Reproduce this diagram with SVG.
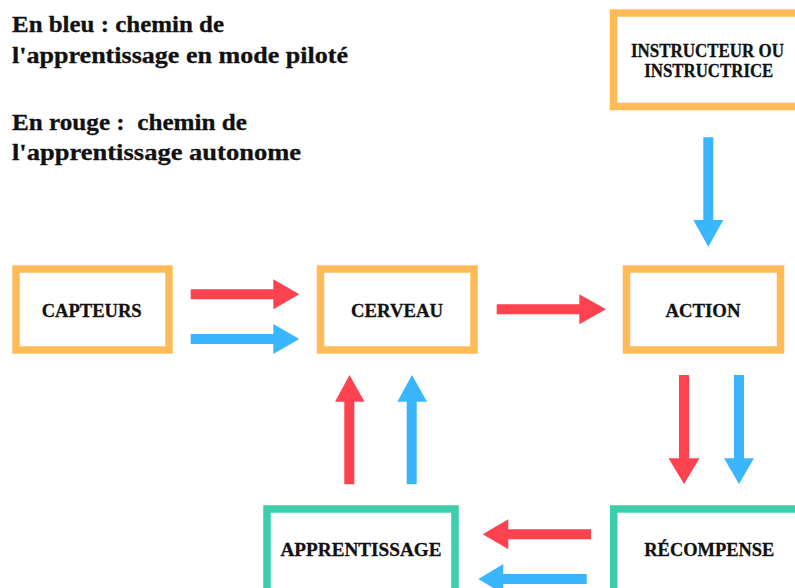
<svg xmlns="http://www.w3.org/2000/svg" width="795" height="588" viewBox="0 0 795 588">
<style>
  .bg{fill:#ffffff}
  .box{fill:#ffffff;stroke-width:7.5}
  .orange{stroke:#ffbb57}
  .green{stroke:#3dcfab}
  .lbl{font-family:"Liberation Serif","DejaVu Serif",serif;font-weight:bold;font-size:19px;fill:#111111;stroke:#111111;stroke-width:0.3;text-anchor:middle}
  .head{font-family:"Liberation Serif","DejaVu Serif",serif;font-weight:bold;font-size:24px;fill:#111111;stroke:#111111;stroke-width:0.3;white-space:pre}
  .red{fill:#ff424f}
  .blue{fill:#3ab6ff}
</style>
<rect class="bg" x="0" y="0" width="795" height="588"/>
<g id="legend">
  <text class="head" x="12" y="31.5" textLength="212" lengthAdjust="spacingAndGlyphs">En bleu : chemin de</text>
  <text class="head" x="12" y="62.5" textLength="336" lengthAdjust="spacingAndGlyphs">l'apprentissage en mode piloté</text>
  <text class="head" x="12" y="130" textLength="235" lengthAdjust="spacingAndGlyphs">En rouge :  chemin de</text>
  <text class="head" x="12" y="160" textLength="289" lengthAdjust="spacingAndGlyphs">l'apprentissage autonome</text>
</g>
<g id="instructeur">
  <rect class="box orange" x="613.5" y="13" width="200" height="93.5"/>
  <text class="lbl" x="707.5" y="56.7" textLength="153" lengthAdjust="spacingAndGlyphs">INSTRUCTEUR OU</text>
  <text class="lbl" x="708.8" y="76.7" textLength="129" lengthAdjust="spacingAndGlyphs">INSTRUCTRICE</text>
</g>
<g id="capteurs">
  <rect class="box orange" x="16" y="269" width="153" height="81"/>
  <text class="lbl" x="91.7" y="316.7" textLength="100" lengthAdjust="spacingAndGlyphs">CAPTEURS</text>
</g>
<g id="cerveau">
  <rect class="box orange" x="320.5" y="269" width="153.5" height="81"/>
  <text class="lbl" x="397" y="316.5" textLength="92" lengthAdjust="spacingAndGlyphs">CERVEAU</text>
</g>
<g id="action">
  <rect class="box orange" x="626.5" y="269" width="154" height="81"/>
  <text class="lbl" x="703" y="316.7" textLength="75" lengthAdjust="spacingAndGlyphs">ACTION</text>
</g>
<g id="apprentissage">
  <rect class="box green" x="267" y="509" width="188" height="100"/>
  <text class="lbl" x="361" y="555.7" textLength="161" lengthAdjust="spacingAndGlyphs">APPRENTISSAGE</text>
</g>
<g id="recompense">
  <rect class="box green" x="613.7" y="509" width="200" height="100"/>
  <text class="lbl" x="709.3" y="556" textLength="130" lengthAdjust="spacingAndGlyphs">RÉCOMPENSE</text>
</g>
<g id="connectors">
  <path class="red" d="M190.7,289.3 H273.3 V279.3 L299.3,294.3 L273.3,309.3 V299.3 H190.7 Z"/>
  <path class="blue" d="M190.7,334 H273.3 V324 L299.3,339 L273.3,354 V344 H190.7 Z"/>
  <path class="red" d="M496.7,304.3 H579.3 V294.3 L606,309.3 L579.3,324.3 V314.3 H496.7 Z"/>
  <path class="blue" d="M703.3,137.3 V220 H693.3 L708.3,246.7 L723.3,220 H713.3 V137.3 Z"/>
  <path class="red" d="M679,375 V458.3 H668.5 L684,484 L699.5,458.3 H689 V375 Z"/>
  <path class="blue" d="M734,375 V458.3 H724 L739,484 L754,458.3 H744 V375 Z"/>
  <path class="red" d="M344.3,484.3 V401.7 H335 L349.5,375 L364.5,401.7 H354.3 V484.3 Z"/>
  <path class="blue" d="M406.7,484.3 V401.7 H397.3 L412,375 L427,401.7 H416.7 V484.3 Z"/>
  <path class="red" d="M591,529.3 H508.3 V519.3 L482.7,534.3 L508.3,549.3 V539.3 H591 Z"/>
  <path class="blue" d="M586.7,574 H503.3 V564 L478.3,579 L503.3,594 V584 H586.7 Z"/>
</g>
</svg>
